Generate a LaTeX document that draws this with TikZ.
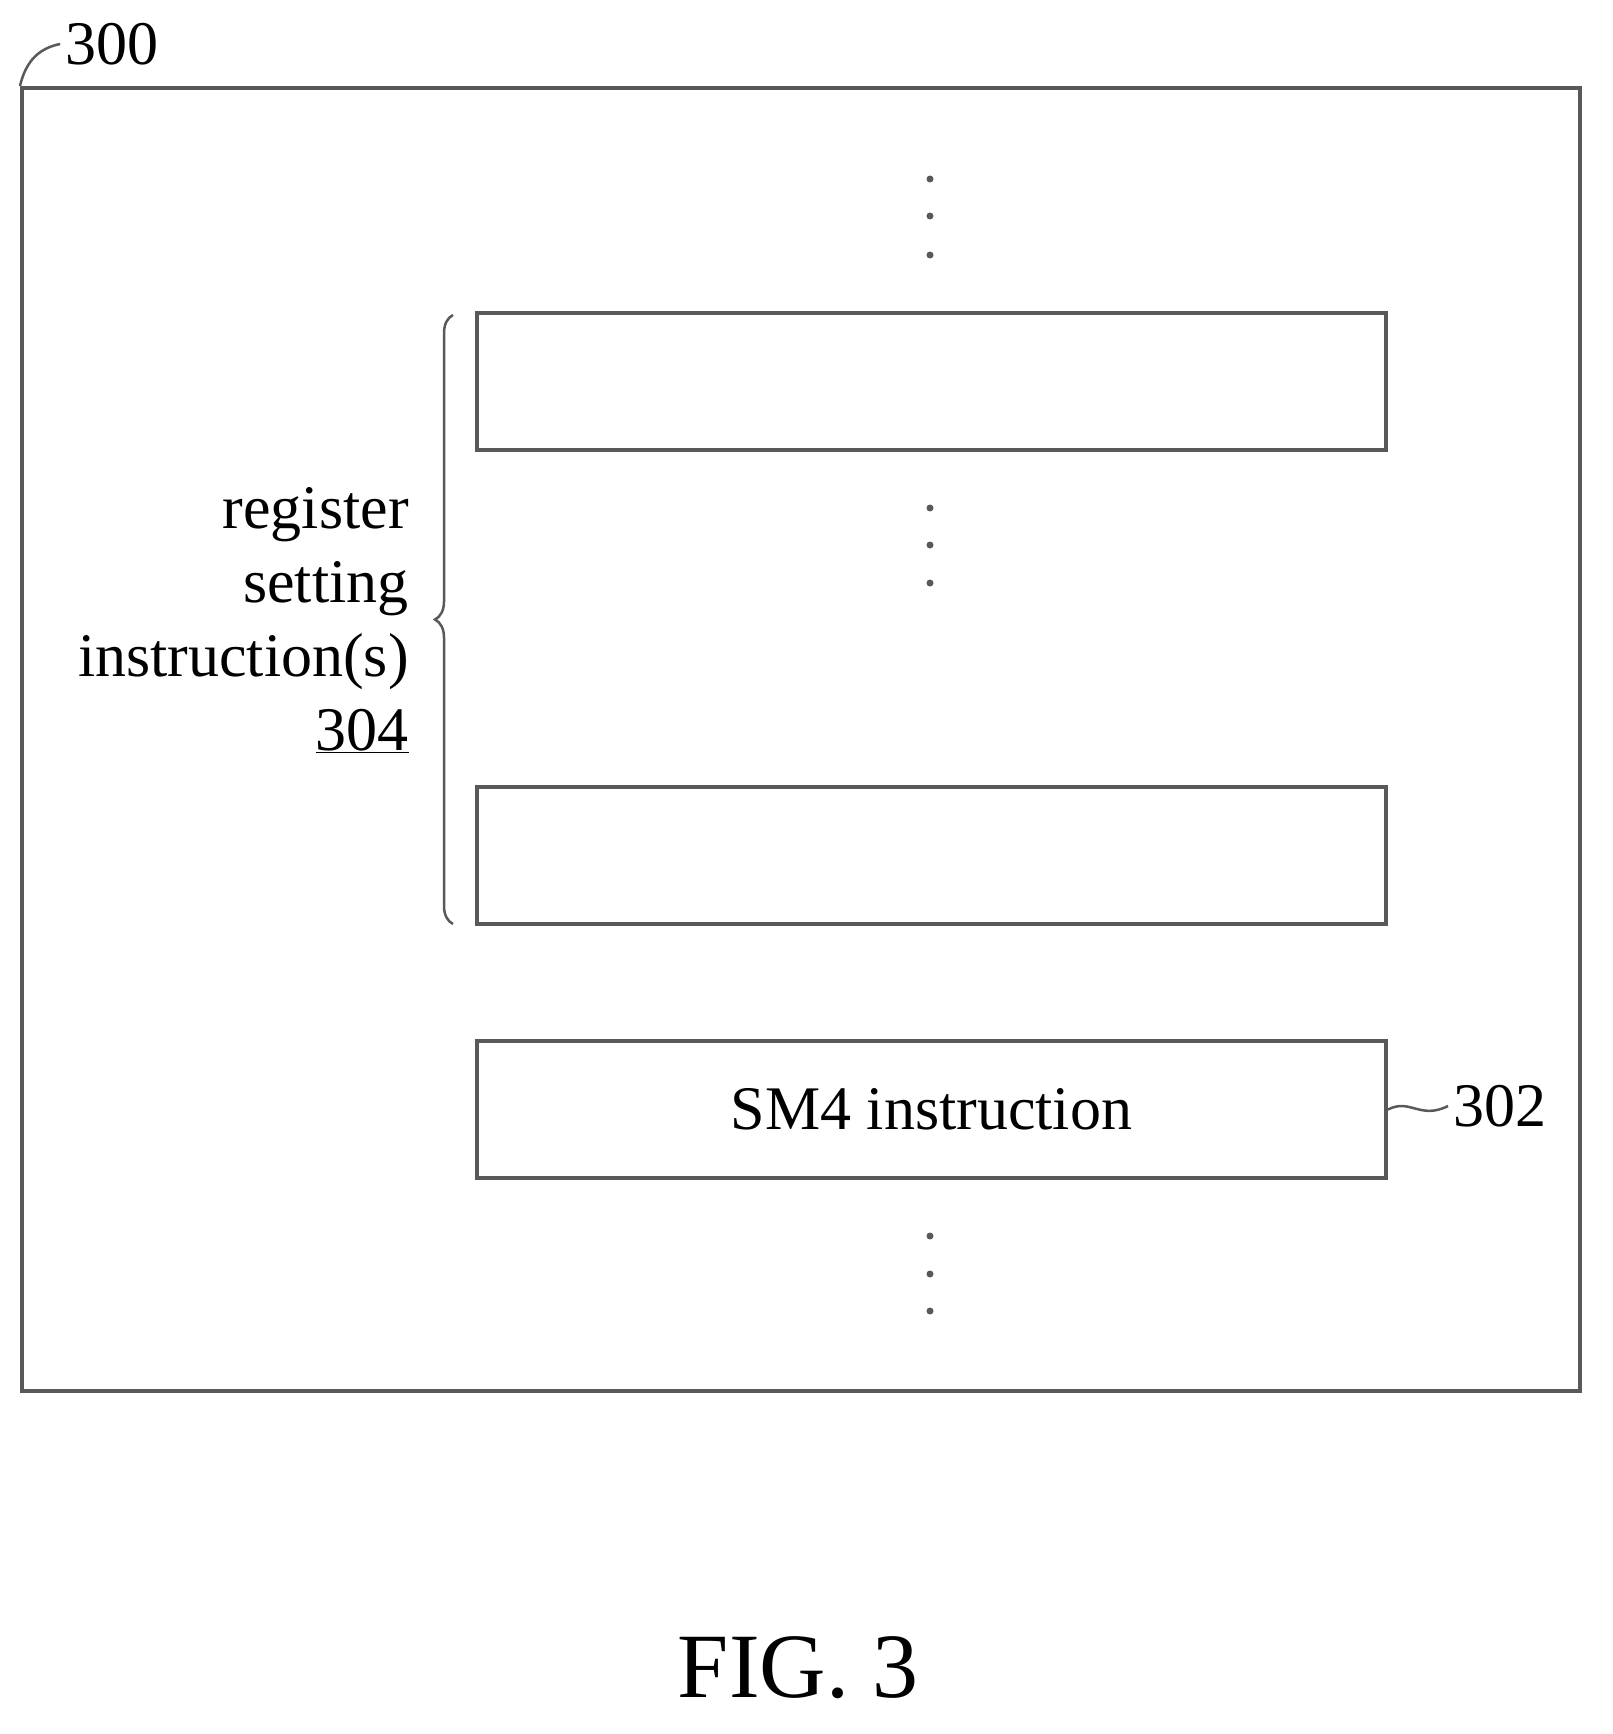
\documentclass[tikz,border=0pt]{standalone}
\usepackage{xcolor}
\usepackage{fontspec}
\setmainfont{Liberation Serif}
\usetikzlibrary{decorations.pathreplacing}

\begin{document}
\begin{tikzpicture}[x=1pt,y=-1pt,line width=4pt,draw=black!65,
  instr/.style={draw=black!65,minimum width=909pt,minimum height=137pt,inner sep=0pt,font=\fontsize{62}{74}\selectfont},
  dotv/.style={fill=black!65,circle,inner sep=0pt,minimum size=7pt}]

\useasboundingbox (0,0) rectangle (1613,1734);

% frame
\node[draw,minimum width=1558pt,minimum height=1303pt,inner sep=0pt] (Frame) at (801,739.5) {};
\node[font=\fontsize{62}{74}\selectfont] (LabelFrame) at (112,44) {300};
\draw[line width=2.5pt] (Frame.north west) .. controls (26,60) and (40,48) .. (LabelFrame.west);

% instructions
\node[instr] (InstrA) at (931.5,381.5) {};
\node[instr] (InstrB) at (931.5,855.5) {};
\node[instr] (InstrSM) at (931.5,1109.5) {SM4 instruction};

\node[font=\fontsize{62}{74}\selectfont,anchor=west] (LabelSM) at (1448,1106) {302};
\draw[line width=2.5pt] (InstrSM.east) .. controls (1410,1098) and (1420,1120) .. (LabelSM.west);

% dots
\foreach \yy in {179,216,255} \node[dotv] at (930,\yy) {};
\foreach \yy in {508,545,583} \node[dotv] at (930,\yy) {};
\foreach \yy in {1236,1274,1311} \node[dotv] at (930,\yy) {};

% brace
\draw[line width=2.5pt,decorate,decoration={brace,amplitude=18pt}] (453,924) -- (453,315);
\node[align=right,anchor=east,font=\fontsize{62}{74}\selectfont] (LabelReg) at (414,620)
  {register\\setting\\instruction(s)\\\underline{304}};

\node[font=\fontsize{92}{100}\selectfont] (Caption) at (798,1668) {FIG. 3};
\end{tikzpicture}
\end{document}
